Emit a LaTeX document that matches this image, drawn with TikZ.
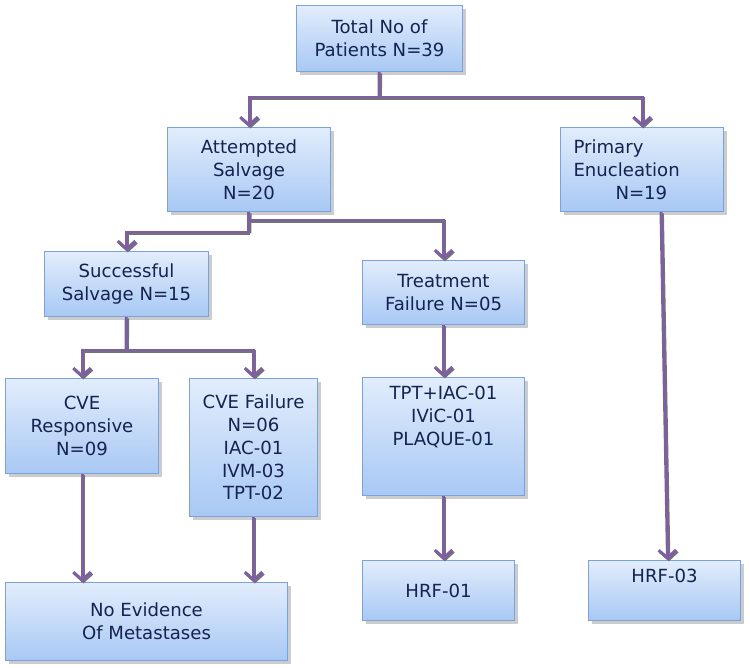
\documentclass[tikz,border=0pt]{standalone}
\usepackage{fontspec}
\setmainfont{DejaVu Sans}
\usepackage{tikz}
\usetikzlibrary{arrows.meta,calc,positioning,shadows}

\definecolor{boxtop}{HTML}{E2EDFC}
\definecolor{boxbot}{HTML}{A8C8F4}
\definecolor{boxline}{HTML}{7AA2DB}
\definecolor{boxtext}{HTML}{14234F}
\definecolor{flowline}{HTML}{7F5FA3}

\begin{document}
\begin{tikzpicture}[x=0.02cm, y=-0.02cm,
    every node/.style={font=\fontsize{10.3}{13}\selectfont, text=boxtext, align=center},
    box/.style={draw=boxline, line width=0.6pt, top color=boxtop, bottom color=boxbot, anchor=north west,
        drop shadow={shadow xshift=2pt, shadow yshift=-2pt, fill=black!40}},
    flow/.style={draw=flowline, line width=1.7pt, preaction={draw=black!55, line width=1.7pt, transform canvas={shift={(0.8pt,-0.8pt)}}}},
    >={Straight Barb[length=4.5pt, width=10pt]}]
    \useasboundingbox (0,0) rectangle (750,668);

    \node[box, minimum width=3.32cm, minimum height=1.32cm] (total) at (296,5) {Total No of\\ Patients N=39};
    \node[box, minimum width=3.26cm, minimum height=1.68cm] (attempt) at (167,127) {Attempted\\ Salvage\\ N=20};
    \node[box, minimum width=3.26cm, minimum height=1.68cm, align=left, text width=2.74cm, inner xsep=0.26cm] (primary) at (560,127) {Primary\\ Enucleation\\ \hspace*{0.84cm}N=19};
    \node[box, minimum width=3.28cm, minimum height=1.3cm] (success) at (44,251) {Successful\\ Salvage N=15};
    \node[box, minimum width=3.24cm, minimum height=1.28cm] (treat) at (362,260) {Treatment\\ Failure N=05};
    \node[box, minimum width=3.06cm, minimum height=1.9cm] (cveresp) at (5,378) {CVE\\ Responsive\\ N=09};
    \node[box, minimum width=2.56cm, minimum height=2.76cm] (cvefail) at (189,378) {CVE Failure\\ N=06\\ IAC-01\\ IVM-03\\ TPT-02};
    \node[box, minimum width=3.24cm, minimum height=2.36cm] (tpt) at (362,377) {\parbox[c][2.12cm][t]{3cm}{\vspace*{1.5pt}\centering TPT+IAC-01\\ IViC-01\\ PLAQUE-01}};
    \node[box, minimum width=3.04cm, minimum height=1.2cm] (hrf1) at (362,560) {HRF-01};
    \node[box, minimum width=3.04cm, minimum height=1.2cm] (hrf3) at (588,560) {\parbox[c][0.96cm][t]{2.8cm}{\vspace*{1.5pt}\centering HRF-03}};
    \node[box, minimum width=5.64cm, minimum height=1.56cm] (noevid) at (5,582) {No Evidence\\ Of Metastases};

    % branch points
    \coordinate (j0) at (379,97);
    \coordinate (j1) at (248.5,232);
    \coordinate (j1b) at (248.5,220);
    \coordinate (j2) at (126,350);

    \draw[flow] (total) -- (j0);
    \draw[flow, ->] (j0) -| (attempt);
    \draw[flow, ->] (j0) -| (primary);
    \draw[flow] (attempt) -- (j1);
    \draw[flow, ->] (j1) -| (success);
    \draw[flow, ->] (j1b) -| (treat);
    \draw[flow] (success) -- (j2);
    \draw[flow, ->] (j2) -| (cveresp);
    \draw[flow, ->] (j2) -| (cvefail);
    \draw[flow, ->] (treat) -- (tpt);
    \draw[flow, ->] (tpt.south) -- (tpt.south |- hrf1.north);
    \draw[flow, ->] ([xshift=0.38cm]primary.south) -- ([xshift=0.06cm]hrf3.north);
    \draw[flow, ->] (cveresp.south) -- (cveresp.south |- noevid.north);
    \draw[flow, ->] (cvefail.south) -- (cvefail.south |- noevid.north);
\end{tikzpicture}
\end{document}
